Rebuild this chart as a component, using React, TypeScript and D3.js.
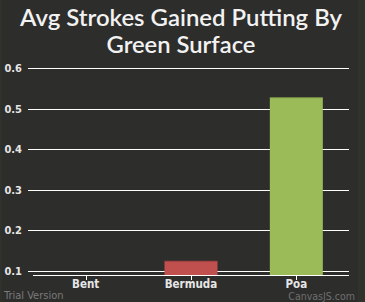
import React from "react";
import * as d3 from "d3";

const categories = ["Bent", "Bermuda", "Poa"];
const values = [0.09, 0.125, 0.528];
const barColors = ["#4f81bc", "#c0504e", "#9bbb59"];
const yTicks = [0.1, 0.2, 0.3, 0.4, 0.5, 0.6];
const titleLines = ["Avg Strokes Gained Putting By", "Green Surface"];

const W = 365;
const H = 302;
const FONT = "'Trebuchet MS', 'DejaVu Sans Condensed', 'DejaVu Sans', sans-serif";
const TITLE_FONT = "Lato, sans-serif";

export default function App() {
  const yMin = 0.09;
  const y = d3.scaleLinear().domain([yMin, 0.6]).range([275, 68]);
  const x = d3.scaleBand().domain(categories).range([33, 349]).paddingInner(0).paddingOuter(0);
  const barW = 53;
  return (
    <svg width={W} height={H} style={{ position: "absolute", left: 0, top: 0, display: "block" }}>
      <rect x={0} y={0} width={W} height={H} fill="#2d2d2b" />
      <rect x={358} y={0} width={7} height={H} fill="#30332c" />
      <rect x={0} y={0} width={2} height={H} fill="#2f312b" />
      <text textAnchor="middle" fill="#f2f2f2" fontFamily={TITLE_FONT} fontSize={22} fontWeight={600}>
        {titleLines.map((t, i) => (
          <tspan key={i} x={181} y={26 + i * 27} textLength={i === 0 ? 322 : 149} lengthAdjust="spacingAndGlyphs">
            {t}
          </tspan>
        ))}
      </text>
      {yTicks.map((t) => (
        <g key={t}>
          <line x1={28} x2={349} y1={Math.round(y(t)) + 0.5} y2={Math.round(y(t)) + 0.5} stroke="#ffffff" strokeWidth={1} />
          <text x={22} y={y(t) + 4} textAnchor="end" fill="#e6e6e6" fontFamily={FONT} fontSize={11} fontWeight="bold">
            {t.toFixed(1)}
          </text>
        </g>
      ))}
      {categories.map((c, i) => {
        const v = Math.max(values[i], yMin);
        const cx = (x(c) as number) + x.bandwidth() / 2;
        const top = y(v);
        return (
          <g key={c}>
            <rect x={cx - barW / 2} y={top} width={barW} height={y(yMin) - top} fill={barColors[i]} />
            {y(yMin) - top > 1 && (
              <rect x={cx - barW / 2} y={top} width={barW} height={1} fill="#000" opacity={0.2} />
            )}
            <line x1={Math.round(cx) + 0.5} x2={Math.round(cx) + 0.5} y1={275} y2={280} stroke="#ffffff" />
            <text x={cx} y={288} textAnchor="middle" fill="#e6e6e6" fontFamily={FONT} fontSize={11.5} fontWeight="bold">
              {c}
            </text>
          </g>
        );
      })}
      <line x1={33} x2={349} y1={275.5} y2={275.5} stroke="#ffffff" strokeWidth={1} />
      <text x={4} y={299} fill="#7a7a7a" fontFamily={FONT} fontSize={11}>
        Trial Version
      </text>
      <text x={355} y={300} textAnchor="end" fill="#6f6f6f" fontFamily={FONT} fontSize={10.5}>
        CanvasJS.com
      </text>
    </svg>
  );
}
